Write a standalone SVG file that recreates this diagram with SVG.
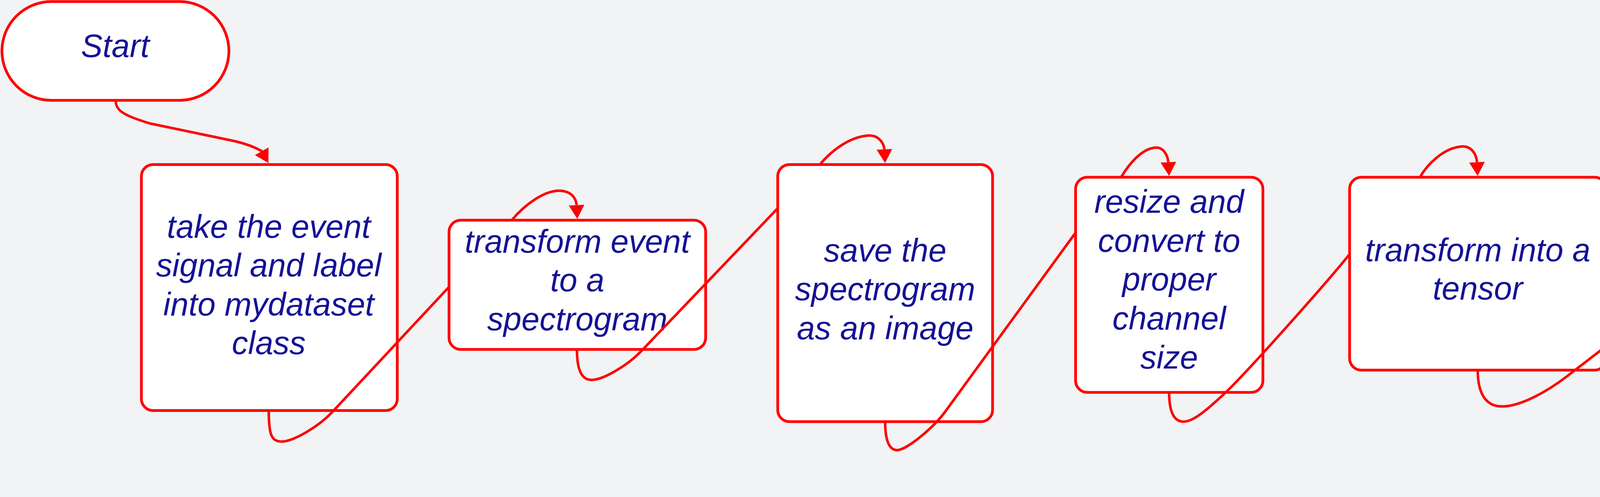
<svg xmlns="http://www.w3.org/2000/svg" width="5342" height="1273" viewBox="0 0 5342 1273">
<style>
.node{fill:#ffffff;stroke:#ff0000;stroke-width:7}
.lbl{font-family:"Liberation Sans",Arial,sans-serif;font-style:italic;font-size:83px;fill:#141296;text-anchor:middle}
.edge{fill:none;stroke:#ff0000;stroke-width:6.5;stroke-linejoin:round;marker-end:url(#arr)}
</style>
<defs>
<marker id="arr" markerUnits="userSpaceOnUse" markerWidth="60" markerHeight="60" refX="0" refY="20" orient="auto" overflow="visible">
<path d="M0 0 L35 20 L0 40 Z" fill="#ff0000"/>
</marker>
</defs>
<rect width="5342" height="1273" fill="#f1f3f5"/>
<g id="start">
<rect class="node" x="5" y="4" width="581" height="253" rx="126.5" ry="126.5"/>
<text class="lbl" x="295" y="146">Start</text>
</g>
<g id="take-signal">
<rect class="node" x="362" y="421.5" width="655" height="630" rx="30" ry="30"/>
<text class="lbl" x="688" y="609">take the event</text>
<text class="lbl" x="688" y="708">signal and label</text>
<text class="lbl" x="688" y="808">into mydataset</text>
<text class="lbl" x="688" y="907">class</text>
</g>
<g id="transform-spectrogram">
<rect class="node" x="1149.5" y="564" width="657" height="331" rx="30" ry="30"/>
<text class="lbl" x="1478" y="647">transform event</text>
<text class="lbl" x="1478" y="746">to a</text>
<text class="lbl" x="1478" y="846">spectrogram</text>
</g>
<g id="save-image">
<rect class="node" x="1991" y="421.5" width="550" height="658.5" rx="30" ry="30"/>
<text class="lbl" x="2266" y="670">save the</text>
<text class="lbl" x="2266" y="769">spectrogram</text>
<text class="lbl" x="2266" y="869">as an image</text>
</g>
<g id="resize-convert">
<rect class="node" x="2753.5" y="454" width="479.5" height="551" rx="30" ry="30"/>
<text class="lbl" x="2993" y="545">resize and</text>
<text class="lbl" x="2993" y="645">convert to</text>
<text class="lbl" x="2993" y="744">proper</text>
<text class="lbl" x="2993" y="844">channel</text>
<text class="lbl" x="2993" y="944">size</text>
</g>
<g id="to-tensor">
<rect class="node" x="3455" y="454" width="657" height="494" rx="30" ry="30"/>
<text class="lbl" x="3783" y="669">transform into a</text>
<text class="lbl" x="3783" y="767">tensor</text>
</g>
<g id="return-tensor">
<rect class="node" x="4204.5" y="564" width="1132.5" height="329" rx="28" ry="28"/>
<text class="lbl" x="4771" y="692">return the tensor with it's</text>
<text class="lbl" x="4771" y="792">label</text>
</g>
<g id="end">
<rect class="node" x="4946.5" y="1053.5" width="390.5" height="214.5" rx="107" ry="107"/>
<text class="lbl" x="5142" y="1178">end</text>
</g>
<g id="connectors">
<path class="edge" d="M296 257 C296 284 318 296 383 316 L603 362 C628 368 652 377 669.5 386.5 l0.49 0.87"/>
<path class="edge" d="M688 1051 C688 1115 695 1131 722 1131 C752 1130 815 1093 850 1056 L1149.5 735 M1310 564 C1340 528 1395 483 1440 489 C1462 492 1474 506 1476 524.5 l0.05 1"/>
<path class="edge" d="M1477 895 C1477 950 1490 974 1516 973 C1545 972 1605 937 1640 901 L1991 533.5 M2099 421.5 C2122 393 2170 350 2225 347 C2248 347 2261 363 2264 381.5 l0.05 1"/>
<path class="edge" d="M2266 1080 C2266 1135 2279 1153 2297 1153 C2322 1152 2390 1095 2420 1054 L2753.5 596 M2870 454 C2888 424 2922 379 2960 378 C2978 378 2988 395 2991 414.5 l0.05 1"/>
<path class="edge" d="M2993 1005 C2993 1060 3008 1080 3030 1080 C3055 1080 3090 1050 3140 1003 C3200 945 3400 720 3455 651 M3635 454 C3652 424 3695 377 3745 375 C3766 375 3779 393 3781 414.5 l0.05 1"/>
<path class="edge" d="M3783 948 C3783 1010 3805 1041 3845 1041 C3890 1041 3955 1007 4010 965 L4204.5 815 M4519 564 C4556 528 4635 468 4715 469 C4742 470 4762 498 4769 524.5 l0.05 1"/>
<path class="edge" d="M4771 893 C4771 920 4785 938 4850 952 L5050 998 C5080 1005 5108 1012 5125.5 1018.4 l0.483 0.876"/>
</g>
</svg>
